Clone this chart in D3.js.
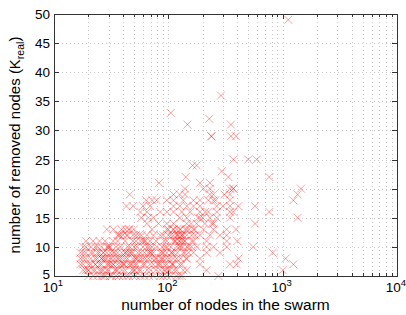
<!DOCTYPE html>
<html>
<head>
<meta charset="utf-8">
<script src="https://cdn.jsdelivr.net/npm/d3@7"></script>
<style>
  body { margin: 0; background: #fff; }
  svg { display: block; }
  text { font-family: "Liberation Sans", Arial, Helvetica, sans-serif; }
</style>
</head>
<body>
<div id="chart"></div>
<script>
const width = 406;
const height = 315;
const margin = { top: 14, right: 9, bottom: 39, left: 54 };

// swarm size (nodes) and removed nodes K_real
const nodes = [
  1120, 289, 105, 147, 228, 238, 238, 353, 353, 391, 370, 500, 593,
  163, 177, 293,
  142, 335, 764,
  83, 189, 231,
  140, 202, 231, 346, 370, 370, 1446,
  46, 111, 126, 140, 231, 248, 346, 1352,
  64, 72, 79, 97, 111, 135, 166, 189, 224, 248, 346, 1240,
  43, 49, 60, 69, 111, 126, 145, 166, 189, 265, 346, 410, 573,
  57, 65, 85, 97, 111, 131, 155, 189, 224, 265, 346, 370, 764,
  58, 67, 74, 126, 145, 189, 231, 265, 346, 1352,
  65, 82, 97, 111, 145, 177, 209, 248, 573,
  29, 39, 42, 46, 97, 100, 111, 126, 145, 166, 202, 248, 324, 391,
  37, 40, 43, 49, 65, 74, 85, 111, 122, 131, 145, 189, 231, 283, 324,
  19, 25, 33, 49, 57, 69, 97, 111, 126, 140, 166, 216, 324, 401,
  18, 21, 24, 29, 35, 46, 53, 65, 79, 97, 118, 145, 177, 216, 248, 324, 553,
  17, 19, 22, 25, 29, 34, 39, 46, 57, 67, 74, 85, 97, 111, 135, 166, 216, 283, 818,
  18, 21, 24, 27, 31, 37, 42, 49, 57, 67, 79, 90, 103, 118, 145, 189, 410, 1063,
  18, 21, 25, 29, 33, 38, 45, 53, 60, 74, 85, 97, 111, 131, 189, 346, 396, 1240,
  19, 22, 25, 29, 34, 39, 48, 57, 65, 85, 103, 118, 145, 216, 1000,
  24, 27, 31, 35, 43, 49, 57, 74, 97, 118, 131, 274,
  // overlapping marks in the dense cluster
  28, 31, 33, 26, 30, 36, 41, 44, 52, 55, 62, 70, 88, 93, 115, 120, 128, 138, 150, 160,
  23, 27, 32, 35, 40, 47, 51, 60, 68, 77, 90, 100, 108, 124, 133, 152, 172, 200, 240, 300,
  20, 26, 30, 36, 42, 48, 54, 63, 72, 82, 95, 107, 119, 130, 143, 158, 182, 210, 260, 310,
  20, 22, 26, 28, 32, 37, 40, 45, 52, 62, 68, 85, 90, 105, 125,
  18, 20, 23, 27, 30, 36, 42, 50, 55, 70, 78, 92, 100, 112, 135,
  17, 20, 23, 26, 30, 33, 36, 41, 47, 51, 62, 69, 80, 92, 108, 125,
  17, 19, 23, 26, 29, 34, 39, 44, 52, 63, 72, 85, 96, 110, 128,
  18, 21, 24, 27, 31, 36, 42, 49, 54, 62, 70, 90, 106, 120, 140,
  19, 23, 26, 31, 38, 44, 50, 60, 72, 88, 105, 125, 150,
  22, 28, 36, 42, 52, 60, 78, 92, 115, 132, 160,
  38, 44, 52, 58, 90, 105, 118, 135, 160,
  33, 45, 50, 110, 128, 140, 170
];
const removed = [
  49, 36, 33, 31, 32, 29, 29, 31, 29, 29, 25, 25, 25,
  24, 24, 23,
  22, 22, 22,
  21, 21, 21,
  20, 20, 20, 20, 20, 20, 20,
  19, 19, 19, 19, 19, 19, 19, 19,
  18, 18, 18, 18, 18, 18, 18, 18, 18, 18, 18, 18,
  17, 17, 17, 17, 17, 17, 17, 17, 17, 17, 17, 17, 17,
  16, 16, 16, 16, 16, 16, 16, 16, 16, 16, 16, 16, 16,
  15, 15, 15, 15, 15, 15, 15, 15, 15, 15,
  14, 14, 14, 14, 14, 14, 14, 14, 14,
  13, 13, 13, 13, 13, 13, 13, 13, 13, 13, 13, 13, 13, 13,
  12, 12, 12, 12, 12, 12, 12, 12, 12, 12, 12, 12, 12, 12, 12,
  11, 11, 11, 11, 11, 11, 11, 11, 11, 11, 11, 11, 11, 11,
  10, 10, 10, 10, 10, 10, 10, 10, 10, 10, 10, 10, 10, 10, 10, 10, 10,
  9, 9, 9, 9, 9, 9, 9, 9, 9, 9, 9, 9, 9, 9, 9, 9, 9, 9, 9,
  8, 8, 8, 8, 8, 8, 8, 8, 8, 8, 8, 8, 8, 8, 8, 8, 8, 8,
  7, 7, 7, 7, 7, 7, 7, 7, 7, 7, 7, 7, 7, 7, 7, 7, 7, 7,
  6, 6, 6, 6, 6, 6, 6, 6, 6, 6, 6, 6, 6, 6, 6,
  5, 5, 5, 5, 5, 5, 5, 5, 5, 5, 5, 5,
  8, 7, 9, 6, 10, 8, 7, 9, 8, 12, 11, 9, 8, 10, 11, 12, 10, 11, 9, 10,
  7, 9, 8, 6, 7, 9, 6, 8, 10, 8, 9, 12, 7, 11, 10, 13, 12, 15, 14, 17,
  6, 8, 10, 12, 9, 7, 8, 11, 13, 7, 6, 9, 13, 12, 8, 14, 15, 16, 18, 19,
  5, 5, 5, 5, 5, 5, 5, 5, 5, 5, 5, 5, 5, 5, 5,
  6, 6, 6, 6, 6, 6, 6, 6, 6, 6, 6, 6, 6, 6, 6,
  7, 7, 7, 7, 7, 7, 7, 7, 7, 7, 7, 7, 7, 7, 7, 7,
  8, 8, 8, 8, 8, 8, 8, 8, 8, 8, 8, 8, 8, 8, 8,
  9, 9, 9, 9, 9, 9, 9, 9, 9, 9, 9, 9, 9, 9, 9,
  10, 10, 10, 10, 10, 10, 10, 10, 10, 10, 10, 10, 10,
  11, 11, 11, 11, 11, 11, 11, 11, 11, 11, 11,
  12, 12, 12, 12, 12, 12, 12, 12, 12,
  13, 13, 13, 13, 13, 13, 13
];

const xTicks = [10, 100, 1000, 10000];
const yTicks = [5, 10, 15, 20, 25, 30, 35, 40, 45, 50];

const points = nodes.map((n, i) => ({ n: n, k: removed[i] }));

const svg = d3.select("#chart").append("svg")
  .attr("width", width)
  .attr("height", height);

const x = d3.scaleLog()
  .domain([10, 10000])
  .range([margin.left, width - margin.right]);

const y = d3.scaleLinear()
  .domain([5, 50])
  .range([height - margin.bottom, margin.top]);

const x0 = x.range()[0], x1 = x.range()[1];
const y0 = y.range()[0], y1 = y.range()[1];

// minor log ticks 20..90, 200..900 ...
const minor = [];
[10, 100, 1000].forEach(d => {
  for (let m = 2; m <= 9; m++) minor.push(d * m);
});

// grid
const grid = svg.append("g")
  .attr("stroke", "#c8c8c8")
  .attr("stroke-width", 1)
  .attr("stroke-dasharray", "1,3")
  .attr("shape-rendering", "crispEdges");

grid.selectAll(".gx")
  .data(minor.concat(xTicks.slice(1, -1)))
  .enter().append("line")
  .attr("x1", d => Math.round(x(d)) + 0.5)
  .attr("x2", d => Math.round(x(d)) + 0.5)
  .attr("y1", y1)
  .attr("y2", y0);

grid.selectAll(".gy")
  .data(yTicks.slice(1, -1))
  .enter().append("line")
  .attr("x1", x0)
  .attr("x2", x1)
  .attr("y1", d => Math.round(y(d)) + 0.5)
  .attr("y2", d => Math.round(y(d)) + 0.5);

// markers
const s = 4;
svg.append("g")
  .attr("fill", "none")
  .selectAll("path")
  .data(points)
  .enter().append("path")
  .attr("stroke", "rgb(255,0,0)")
  .attr("stroke-opacity", 0.38)
  .attr("stroke-width", 1)
  .attr("d", d => {
    const cx = x(d.n), cy = y(d.k);
    return `M${cx - s},${cy - s}L${cx + s},${cy + s}M${cx - s},${cy + s}L${cx + s},${cy - s}`;
  });

// box with inward ticks
const axisColor = "#333";
const frame = svg.append("g")
  .attr("stroke", axisColor)
  .attr("stroke-width", 1)
  .attr("shape-rendering", "crispEdges")
  .attr("fill", "none");

frame.append("rect")
  .attr("x", x0 + 0.5)
  .attr("y", y1 + 0.5)
  .attr("width", x1 - x0)
  .attr("height", y0 - y1);

const xMajor = d3.axisBottom(x).tickValues(xTicks).tickSize(-5).tickFormat("");
const xMinor = d3.axisBottom(x).tickValues(minor).tickSize(-3).tickFormat("");
const yAxis = d3.axisLeft(y).tickValues(yTicks).tickSize(-5).tickFormat("");

function styleAxis(g) {
  g.select(".domain").remove();
  g.selectAll("text").remove();
  g.selectAll("line").attr("stroke", axisColor).attr("shape-rendering", "crispEdges");
}

svg.append("g").attr("transform", `translate(0,${y0})`).call(xMajor).call(styleAxis);
svg.append("g").attr("transform", `translate(0,${y0})`).call(xMinor).call(styleAxis);
svg.append("g").attr("transform", `translate(0,${y1})`).call(xMajor.tickSize(5)).call(styleAxis);
svg.append("g").attr("transform", `translate(0,${y1})`).call(xMinor.tickSize(3)).call(styleAxis);
svg.append("g").attr("transform", `translate(${x0},0)`).call(yAxis).call(styleAxis);
svg.append("g").attr("transform", `translate(${x1},0)`).call(d3.axisRight(y).tickValues(yTicks).tickSize(-5).tickFormat("")).call(styleAxis);

// tick labels
const fs = 13.5;
svg.append("g")
  .selectAll("text")
  .data(yTicks)
  .enter().append("text")
  .attr("x", x0 - 4)
  .attr("y", d => y(d) + (d === 5 ? 3 : 5))
  .attr("text-anchor", "end")
  .attr("font-size", fs)
  .attr("fill", "#000")
  .text(d => d);

const xl = svg.append("g")
  .selectAll("text")
  .data(xTicks)
  .enter().append("text")
  .attr("x", d => x(d) - 1)
  .attr("y", y0 + 16)
  .attr("text-anchor", "middle")
  .attr("font-size", fs)
  .attr("fill", "#000");
xl.append("tspan").text("10");
xl.append("tspan")
  .attr("dy", -6)
  .attr("font-size", 9.5)
  .text(d => Math.round(Math.log10(d)));

// axis titles
svg.append("text")
  .attr("x", (x0 + x1) / 2)
  .attr("y", height - 5)
  .attr("text-anchor", "middle")
  .attr("font-size", 15.5)
  .attr("fill", "#000")
  .text("number of nodes in the swarm");

const yt = svg.append("text")
  .attr("transform", `translate(20,${(y0 + y1) / 2}) rotate(-90)`)
  .attr("text-anchor", "middle")
  .attr("font-size", 15)
  .attr("fill", "#000");
yt.append("tspan").text("number of removed nodes (K");
yt.append("tspan").attr("dy", 4).attr("font-size", 10.5).text("real");
yt.append("tspan").attr("dy", -4).text(")");
</script>
</body>
</html>
